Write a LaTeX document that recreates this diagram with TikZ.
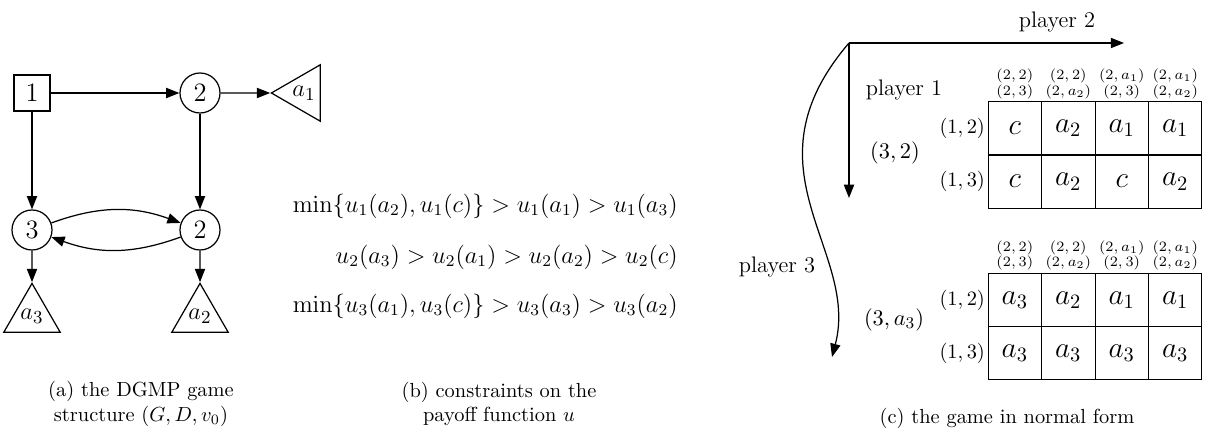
\documentclass[tikz,border=0pt]{standalone}
\usepackage{amsmath}
\usepackage{tikz}
\usetikzlibrary{arrows.meta,positioning,shapes.geometric,matrix}

\begin{document}
\begin{tikzpicture}[x=0.49pt,y=-0.49pt, line width=0.6pt, >={Triangle[length=6.5pt,width=5pt]},
  sq/.style={draw,minimum size=17.6pt,inner sep=0pt,font=\fontsize{13}{15}\selectfont},
  circ/.style={draw,circle,minimum size=19.6pt,inner sep=0pt,font=\fontsize{13}{15}\selectfont},
  leaf/.style={draw,regular polygon,regular polygon sides=3,minimum size=26.5pt,inner sep=0pt,font=\fontsize{13}{15}\selectfont},
  captxt/.style={align=center,font=\fontsize{10}{12}\selectfont},
  lbl/.style={font=\fontsize{11}{13}\selectfont},
  cons/.style={font=\fontsize{11.7}{14}\selectfont,anchor=east},
  rowlbl/.style={font=\fontsize{10}{12}\selectfont,inner sep=1pt},
  hdr/.style={align=center,font=\fontsize{7}{7.5}\selectfont,inner sep=1pt},
  tab/.style={matrix of math nodes, column sep=-0.5pt, row sep=-0.5pt,
    nodes={draw,line width=0.5pt,anchor=center,minimum width=26.2pt,minimum height=26pt,inner sep=0pt,font=\fontsize{14.4}{16}\selectfont}}]
\useasboundingbox (0,0) rectangle (1209,431);

% (a) game structure
\node[sq] (n1) at (32,93) {1};
\node[circ] (n2a) at (200,93) {2};
\node[circ] (n3) at (32,230) {3};
\node[circ] (n2b) at (200,230) {2};
\node[leaf,regular polygon rotate=90] (t1) at (304,93) {$a_1$};
\node[leaf] (t3) at (32,316) {$a_3$};
\node[leaf] (t2) at (200,316) {$a_2$};
\draw[->] (n1) -- (n2a);
\draw[->] (n1) -- (n3);
\draw[->] (n2a) -- (t1);
\draw[->] (n2a) -- (n2b);
\draw[->] (n3) to[bend left=20] (n2b);
\draw[->] (n2b) to[bend left=20] (n3);
\draw[->] (n3) -- (t3);
\draw[->] (n2b) -- (t2);
\node[captxt] (capa) at (141,404) {(a) the DGMP game\\structure $(G,D,v_0)$};

% (b) payoff constraints
\node[cons] (con1) at (685,206) {$\min\{u_1(a_2),u_1(c)\}>u_1(a_1)>u_1(a_3)$};
\node[cons] (con2) at (685,257) {$u_2(a_3)>u_2(a_1)>u_2(a_2)>u_2(c)$};
\node[cons] (con3) at (685,306) {$\min\{u_3(a_1),u_3(c)\}>u_3(a_3)>u_3(a_2)$};
\node[captxt] (capb) at (499,404) {(b) constraints on the\\payoff function $u$};

% (c) normal form
\coordinate (orig) at (849,43);
\coordinate (p2end) at (1124,43);
\coordinate (p1end) at (849,198);
\coordinate (p3end) at (832,357);
\draw[->] (orig) -- (p2end);
\draw[->] (orig) -- (p1end);
\draw[->] (orig) .. controls (740,170) and (860,250) .. (p3end);
\node[lbl] (pl2) at (1057,22) {player 2};
\node[lbl] (pl1) at (904,90) {player 1};
\node[lbl] (pl3) at (777,267) {player 3};
\node[lbl] (s32) at (895,153) {$(3,2)$};
\node[lbl] (s3a) at (894,320) {$(3,a_3)$};

\matrix[tab] (ma) at (1095,155) {c & a_2 & a_1 & a_1\\ c & a_2 & c & a_2\\};
\matrix[tab] (mb) at (1095,326.5) {a_3 & a_2 & a_1 & a_1\\ a_3 & a_3 & a_3 & a_3\\};
\foreach \m in {ma,mb}{
  \node[rowlbl,left=0pt of \m-1-1] (\m-r1) {$(1,2)$};
  \node[rowlbl,left=0pt of \m-2-1] (\m-r2) {$(1,3)$};
  \foreach \j/\hi/\lo in {1/{(2,2)}/{(2,3)},2/{(2,2)}/{(2,a_2)},3/{(2,a_1)}/{(2,3)},4/{(2,a_1)}/{(2,a_2)}}
    \node[hdr,above=0pt of \m-1-\j] (\m-h\j) {$\hi$\\$\lo$};
}
\node[captxt] (capc) at (1007,418) {(c) the game in normal form};
\end{tikzpicture}
\end{document}
